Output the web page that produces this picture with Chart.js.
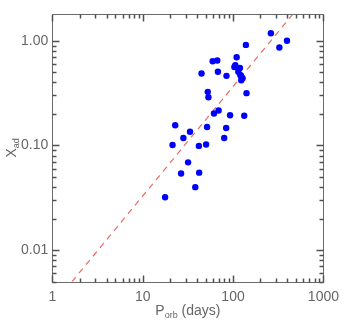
<!DOCTYPE html>
<html><head><meta charset="utf-8">
<script src="https://cdn.jsdelivr.net/npm/chart.js@4/dist/chart.umd.min.js"></script>
<style>html,body{margin:0;padding:0;background:#fff}#wrap{width:346px;height:321px}</style>
</head><body><div id="wrap"><canvas id="c" width="346" height="321"></canvas></div>
<script>
const periods = [17.7, 21.4, 22.9, 26.6, 28.2, 31.8, 33.4, 38.2, 41.9, 42.2, 44.8, 50.3, 51.6, 52.5, 53.4, 59.5, 61.5, 66.9, 68.0, 69.2, 79.8, 83.9, 84.6, 92.7, 103.4, 106, 109.6, 114.3, 119.2, 120.2, 123.3, 127.5, 123.3, 132.9, 138.6, 141, 262, 325.6, 395];
const xad = [0.032, 0.101, 0.156, 0.054, 0.118, 0.069, 0.135, 0.040, 0.099, 0.055, 0.486, 0.102, 0.150, 0.325, 0.289, 0.637, 0.202, 0.647, 0.505, 0.216, 0.118, 0.147, 0.462, 0.194, 0.562, 0.583, 0.696, 0.505, 0.55, 0.472, 0.455, 0.438, 0.42, 0.192, 0.912, 0.316, 1.18, 0.861, 1.0];
const fitX = [1.65, 460];
const fitY = [0.005, 1.8];
const xRange = [1, 1000];
const yRange = [0.005, 1.8];
const xTickValues = [1, 10, 100, 1000];
const xTickLabels = ["1", "10", "100", "1000"];
const yTickValues = [0.01, 0.1, 1];
const yTickLabels = ["0.01", "0.10", "1.00"];
const xTitle = ["P", "orb", " (days)"];
const yTitle = ["X", "ad"];

const GRAY = '#666666';
const FONT = '"Liberation Sans", Arial, sans-serif';

function minorVals(min, max) {
  const out = [];
  for (let e = -4; e <= 4; e++) {
    for (let m = 1; m <= 9; m++) {
      const v = m * Math.pow(10, e);
      if (v >= min * 0.9999 && v <= max * 1.0001) out.push({v: v, major: m === 1});
    }
  }
  return out;
}

const framePlugin = {
  id: 'frame',
  afterDraw(chart) {
    const ctx = chart.ctx, a = chart.chartArea;
    const xs = chart.scales.x, ys = chart.scales.y;
    const L0 = Math.round(a.left) + 0.5, R0 = Math.round(a.right) + 0.5;
    const T0 = Math.round(a.top) + 0.5, B0 = Math.round(a.bottom) + 0.5;
    ctx.save();
    ctx.setLineDash([]);
    ctx.globalAlpha = 1;
    ctx.strokeStyle = '#6a6a6a';
    ctx.lineWidth = 1;
    ctx.beginPath();
    ctx.rect(L0, T0, R0 - L0, B0 - T0);
    ctx.stroke();
    ctx.strokeStyle = '#505050';
    ctx.lineWidth = 1.5;
    const xm = minorVals(xRange[0], xRange[1]);
    const ym = minorVals(yRange[0], yRange[1]);
    for (const t of xm) {
      const px = Math.round(xs.getPixelForValue(t.v)) + 0.5;
      const len = t.major ? 7 : 4;
      ctx.beginPath();
      ctx.moveTo(px, B0); ctx.lineTo(px, B0 - len);
      ctx.moveTo(px, T0); ctx.lineTo(px, T0 + len);
      ctx.stroke();
    }
    for (const t of ym) {
      const py = Math.round(ys.getPixelForValue(t.v)) + 0.5;
      const len = t.major ? 7 : 4;
      ctx.beginPath();
      ctx.moveTo(L0, py); ctx.lineTo(L0 + len, py);
      ctx.moveTo(R0, py); ctx.lineTo(R0 - len, py);
      ctx.stroke();
    }
    // x title with subscript
    ctx.fillStyle = GRAY;
    ctx.textBaseline = 'alphabetic';
    ctx.textAlign = 'left';
    const big = '14px ' + FONT, small = '9px ' + FONT;
    ctx.font = big; const w1 = ctx.measureText(xTitle[0]).width;
    ctx.font = small; const w2 = ctx.measureText(xTitle[1]).width;
    ctx.font = big; const w3 = ctx.measureText(xTitle[2]).width;
    const x0 = (a.left + a.right) / 2 - (w1 + w2 + w3) / 2;
    const by = 315;
    ctx.font = big; ctx.fillText(xTitle[0], x0, by);
    ctx.font = small; ctx.fillText(xTitle[1], x0 + w1, by + 3);
    ctx.font = big; ctx.fillText(xTitle[2], x0 + w1 + w2, by);
    // y title rotated
    ctx.save();
    ctx.translate(16, (a.top + a.bottom) / 2);
    ctx.rotate(-Math.PI / 2);
    ctx.font = big; const v1 = ctx.measureText(yTitle[0]).width;
    ctx.font = small; const v2 = ctx.measureText(yTitle[1]).width;
    const y0 = -(v1 + v2) / 2;
    ctx.font = big; ctx.fillText(yTitle[0], y0, 0);
    ctx.font = small; ctx.fillText(yTitle[1], y0 + v1, 3);
    ctx.restore();
    ctx.restore();
  }
};

new Chart(document.getElementById('c'), {
  type: 'scatter',
  data: {
    datasets: [
      {
        type: 'line',
        data: fitX.map((x, i) => ({x, y: fitY[i]})),
        borderColor: '#f06868',
        borderWidth: 1.2,
        borderDash: [6, 5],
        pointRadius: 0,
        fill: false,
        order: 2
      },
      {
        data: periods.map((x, i) => ({x, y: xad[i]})),
        backgroundColor: '#0000ff',
        borderColor: '#0000ff',
        borderWidth: 0,
        pointRadius: 3.2,
        order: 1
      }
    ]
  },
  options: {
    responsive: false,
    animation: false,
    devicePixelRatio: 1,
    layout: {padding: {top: 14, right: 19, left: 0, bottom: 0}},
    plugins: {legend: {display: false}, tooltip: {enabled: false}},
    scales: {
      x: {
        type: 'logarithmic', min: xRange[0], max: xRange[1],
        grid: {display: false, drawTicks: false}, border: {display: false},
        afterBuildTicks(s) { s.ticks = xTickValues.map(v => ({value: v})); },
        afterFit(s) { s.height = 39.3; },
        ticks: {
          color: GRAY, font: {family: FONT, size: 14}, padding: 7, maxRotation: 0, autoSkip: false,
          callback(v) { const i = xTickValues.indexOf(v); return i >= 0 ? xTickLabels[i] : ''; }
        }
      },
      y: {
        type: 'logarithmic', min: yRange[0], max: yRange[1],
        grid: {display: false, drawTicks: false}, border: {display: false},
        afterBuildTicks(s) { s.ticks = yTickValues.map(v => ({value: v})); },
        afterFit(s) { s.width = 52.3; },
        ticks: {
          color: GRAY, font: {family: FONT, size: 14}, padding: 4, autoSkip: false,
          callback(v) { const i = yTickValues.findIndex(t => Math.abs(t - v) < 1e-9); return i >= 0 ? yTickLabels[i] : ''; }
        }
      }
    }
  },
  plugins: [framePlugin]
});
</script>
</body></html>
